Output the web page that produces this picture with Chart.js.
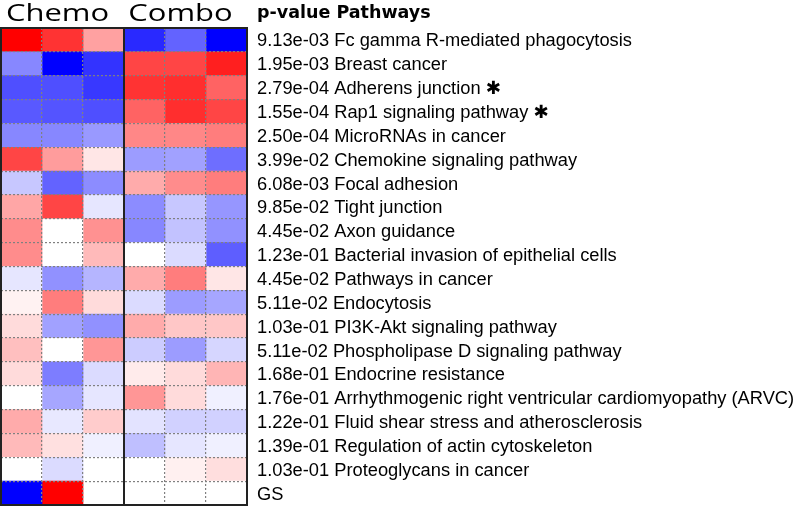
<!DOCTYPE html>
<html>
<head>
<meta charset="utf-8">
<script src="https://cdn.jsdelivr.net/npm/chart.js@4"></script>
<style>
  html, body { margin: 0; padding: 0; background: #fff; }
  #wrap { width: 800px; height: 507px; }
</style>
</head>
<body>
<div id="wrap"><canvas id="heat"></canvas></div>
<script>
// pathways + p-values (row order top to bottom)
const pathways = [
  'Fc gamma R-mediated phagocytosis', 'Breast cancer', 'Adherens junction', 'Rap1 signaling pathway',
  'MicroRNAs in cancer', 'Chemokine signaling pathway', 'Focal adhesion', 'Tight junction', 'Axon guidance',
  'Bacterial invasion of epithelial cells', 'Pathways in cancer', 'Endocytosis', 'PI3K-Akt signaling pathway',
  'Phospholipase D signaling pathway', 'Endocrine resistance',
  'Arrhythmogenic right ventricular cardiomyopathy (ARVC)', 'Fluid shear stress and atherosclerosis',
  'Regulation of actin cytoskeleton', 'Proteoglycans in cancer', 'GS',
];
const pValues = [
  '9.13e-03', '1.95e-03', '2.79e-04', '1.55e-04', '2.50e-04', '3.99e-02', '6.08e-03', '9.85e-02', '4.45e-02',
  '1.23e-01', '4.45e-02', '5.11e-02', '1.03e-01', '5.11e-02', '1.68e-01', '1.76e-01', '1.22e-01', '1.39e-01',
  '1.03e-01', '',
];
const starred = ['Adherens junction', 'Rap1 signaling pathway'];

const groups = ['Chemo', 'Combo'];

// scaled values per column, -1 (blue) .. 0 (white) .. 1 (red)
const chemo1 = [1.0, -0.47, -0.69, -0.65, -0.47, 0.73, -0.22, 0.35, 0.45, 0.45, -0.1, 0.05, 0.14, 0.25, 0.14, 0, 0.33, 0.27, 0, -1];
const chemo2 = [0.8, -1.0, -0.69, -0.67, -0.47, 0.39, -0.61, 0.73, 0, 0, -0.43, 0.51, -0.37, 0, -0.51, -0.35, -0.09, 0.12, -0.14, 1];
const chemo3 = [0.37, -0.8, -0.78, -0.69, -0.4, 0.1, -0.45, -0.1, 0.43, 0.27, -0.29, 0.14, -0.43, 0.41, -0.14, -0.1, 0.2, -0.06, 0, 0];
const combo1 = [-0.84, 0.73, 0.8, 0.61, 0.47, -0.39, 0.33, -0.45, -0.47, 0, 0.33, -0.14, 0.33, -0.2, 0.08, 0.41, -0.11, -0.25, 0, 0];
const combo2 = [-0.61, 0.73, 0.82, 0.82, 0.47, -0.37, 0.45, -0.22, -0.24, -0.14, 0.51, -0.39, 0.22, -0.39, 0.14, 0.14, -0.18, -0.1, 0.06, 0];
const combo3 = [-1.0, 0.88, 0.61, 0.73, 0.51, -0.57, 0.51, -0.41, -0.43, -0.63, 0.1, -0.35, 0.22, -0.16, 0.29, -0.06, -0.18, -0.06, 0.13, 0];

const columns = [chemo1, chemo2, chemo3, combo1, combo2, combo3];

function heatColor(v) {
  const k = Math.round(255 * (1 - Math.abs(v)));
  return v >= 0 ? `rgb(255,${k},${k})` : `rgb(${k},${k},255)`;
}

const rowLabels = pathways.map((p, i) => {
  const base = pValues[i] ? `${pValues[i]} ${p}` : p;
  return starred.includes(p) ? `${base} \u2731` : base;
});

// frame, separator, group titles and header
const framePlugin = {
  id: 'frame',
  afterDraw(chart) {
    const { ctx, chartArea: a, scales } = chart;
    ctx.save();
    ctx.strokeStyle = '#222';
    ctx.lineWidth = 2;
    ctx.strokeRect(a.left, a.top, a.right - a.left, a.bottom - a.top);
    const xs = scales.x.getPixelForValue(3);
    ctx.beginPath();
    ctx.moveTo(xs, a.top);
    ctx.lineTo(xs, a.bottom);
    ctx.stroke();

    // Chemo / Combo, drawn a bit stretched like the original figure
    ctx.fillStyle = '#000';
    ctx.font = '24px "Open Sans"';
    ctx.textAlign = 'center';
    ctx.textBaseline = 'alphabetic';
    groups.forEach((g, i) => {
      const cx = scales.x2.getPixelForValue(i) - 5;
      ctx.save();
      ctx.translate(cx, 21);
      ctx.scale(1.29, 1);
      ctx.fillText(g, 0, 0);
      ctx.restore();
    });

    ctx.textAlign = 'left';
    ctx.font = 'bold 17.5px "DejaVu Sans"';
    ctx.textBaseline = 'middle';
    ctx.fillText('p-value Pathways', a.right + 10, 13);
    ctx.restore();
  },
};

new Chart(document.getElementById('heat'), {
  type: 'bar',
  data: {
    labels: rowLabels,
    datasets: columns.map((col, c) => ({
      label: `${groups[c < 3 ? 0 : 1]} ${(c % 3) + 1}`,
      data: col.map(() => 1),
      backgroundColor: col.map(heatColor),
      borderWidth: 0,
      barPercentage: 1,
      categoryPercentage: 1,
    })),
  },
  options: {
    indexAxis: 'y',
    responsive: true,
    maintainAspectRatio: false,
    animation: false,
    layout: { padding: { left: 1, right: 0, top: 0, bottom: 2 } },
    plugins: { legend: { display: false }, tooltip: { enabled: false } },
    scales: {
      x: {
        stacked: true,
        min: 0,
        max: 6,
        ticks: { display: false, stepSize: 1 },
        grid: { color: '#808080', lineWidth: 1.2, drawTicks: false, z: 1 },
        border: { display: false, dash: [2, 2] },
        afterFit: (s) => { s.height = 0; },
      },
      x2: {
        type: 'category',
        axis: 'x',
        position: 'top',
        labels: groups,
        offset: true,
        grid: { display: false, drawTicks: false },
        border: { display: false },
        ticks: { display: false },
        afterFit: (s) => { s.height = 28; },
      },
      y: {
        stacked: true,
        position: 'right',
        grid: { color: '#808080', lineWidth: 1.2, drawTicks: false, z: 1 },
        border: { display: false, dash: [2, 2] },
        ticks: {
          color: '#000',
          padding: 10,
          labelOffset: 1.5,
          autoSkip: false,
          font: { family: '"Liberation Sans", "DejaVu Sans"', size: 18.3 },
        },
        afterFit: (s) => { s.width = 553; s.paddingTop = 0; s.paddingBottom = 0; },
      },
    },
  },
  plugins: [framePlugin],
});
</script>
</body>
</html>
